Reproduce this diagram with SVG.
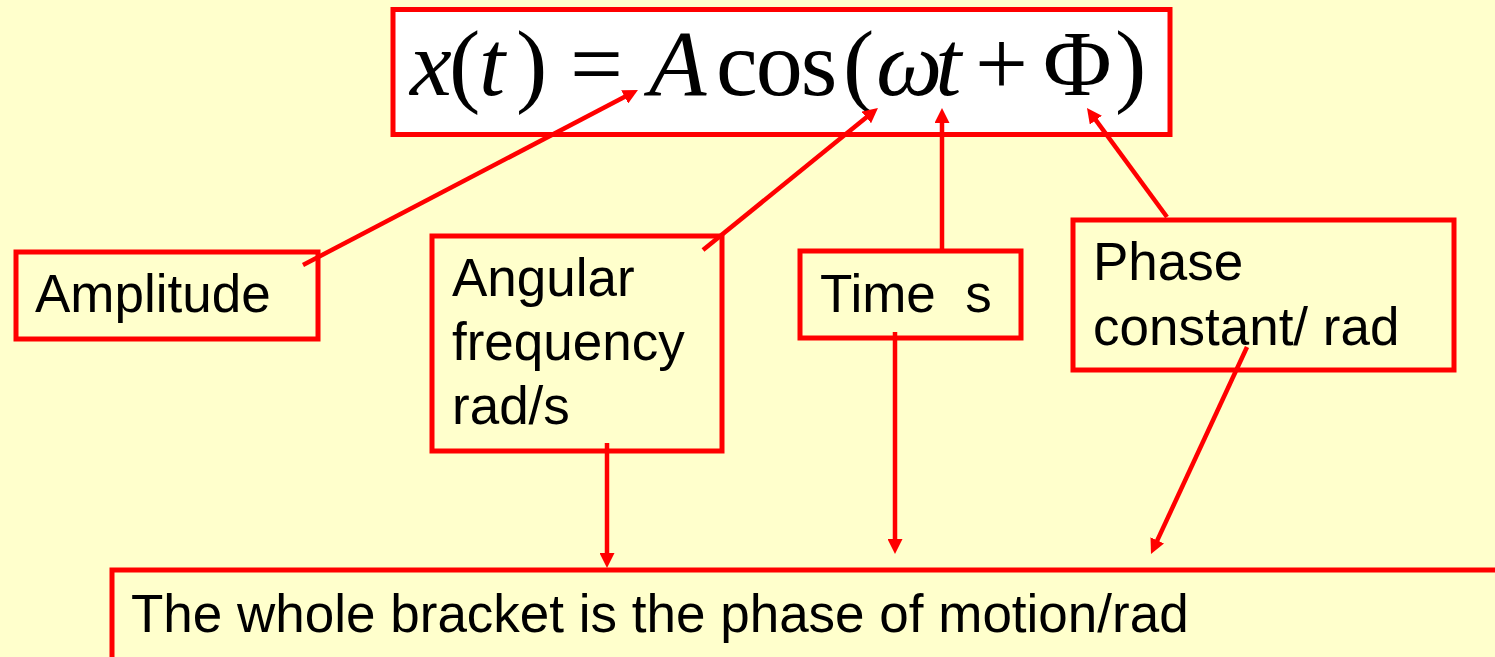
<svg xmlns="http://www.w3.org/2000/svg" width="1495" height="657" viewBox="0 0 1495 657">
  <style>
    .box { fill: none; stroke: #FF0000; stroke-width: 5; }
    .lbl { font-family: "Liberation Sans", Arial, sans-serif; font-size: 53px; fill: #000000; white-space: pre; }
    .eq { font-family: "Liberation Serif", "Times New Roman", serif; font-size: 94px; fill: #000000; }
    .it { font-style: italic; }
    .conn { fill: none; stroke: #FF0000; stroke-width: 4.5; }
  </style>
  <defs>
    <marker id="ah" markerUnits="userSpaceOnUse" markerWidth="15" markerHeight="15" refX="5" refY="7.5" orient="auto" viewBox="0 0 15 15">
      <path d="M0,0 L15,7.5 L0,15 z" fill="#FF0000"/>
    </marker>
  </defs>
  <rect x="0" y="0" width="1495" height="657" fill="#FFFFCC"/>

  <g id="equation">
    <rect x="393" y="9.5" width="777" height="125" fill="#FFFFFF" stroke="#FF0000" stroke-width="5"/>
    <text class="eq" y="95"><tspan class="it" x="410">x</tspan><tspan x="449">(</tspan><tspan class="it" x="479">t</tspan><tspan x="516">)</tspan><tspan x="570">=</tspan><tspan class="it" x="649">A</tspan><tspan x="716" letter-spacing="-2">cos</tspan><tspan x="843">(</tspan><tspan class="it" x="876" letter-spacing="-7">ωt</tspan><tspan x="975">+</tspan><tspan x="1043">Φ</tspan><tspan x="1115">)</tspan></text>
  </g>

  <g id="amplitude">
    <rect class="box" x="16" y="252" width="302" height="87"/>
    <text class="lbl" x="35" y="312">Amplitude</text>
  </g>

  <g id="angular">
    <rect class="box" x="432" y="236" width="290" height="215"/>
    <text class="lbl" x="452" y="296">Angular</text>
    <text class="lbl" x="452" y="360">frequency</text>
    <text class="lbl" x="452" y="424">rad/s</text>
  </g>

  <g id="time">
    <rect class="box" x="800" y="251" width="221" height="87"/>
    <text class="lbl" x="820" y="312">Time  s</text>
  </g>

  <g id="phase">
    <rect class="box" x="1073" y="220" width="381" height="150"/>
    <text class="lbl" x="1093" y="280">Phase</text>
    <text class="lbl" x="1093" y="345">constant/ rad</text>
  </g>

  <g id="bracket">
    <rect class="box" x="112" y="570" width="1400" height="200"/>
    <text class="lbl" x="131" y="632">The whole bracket is the phase of motion/rad</text>
  </g>

  <g id="connectors">
    <line class="conn" x1="303" y1="265" x2="629.1" y2="94.6" marker-end="url(#ah)"/>
    <line class="conn" x1="703" y1="250" x2="870.2" y2="114.3" marker-end="url(#ah)"/>
    <line class="conn" x1="942" y1="251" x2="942" y2="118" marker-end="url(#ah)"/>
    <line class="conn" x1="1167" y1="217" x2="1092.9" y2="116.1" marker-end="url(#ah)"/>
    <line class="conn" x1="607" y1="443" x2="607" y2="558" marker-end="url(#ah)"/>
    <line class="conn" x1="895" y1="332" x2="895" y2="544" marker-end="url(#ah)"/>
    <line class="conn" x1="1247" y1="347" x2="1155.2" y2="544.9" marker-end="url(#ah)"/>
  </g>
</svg>
